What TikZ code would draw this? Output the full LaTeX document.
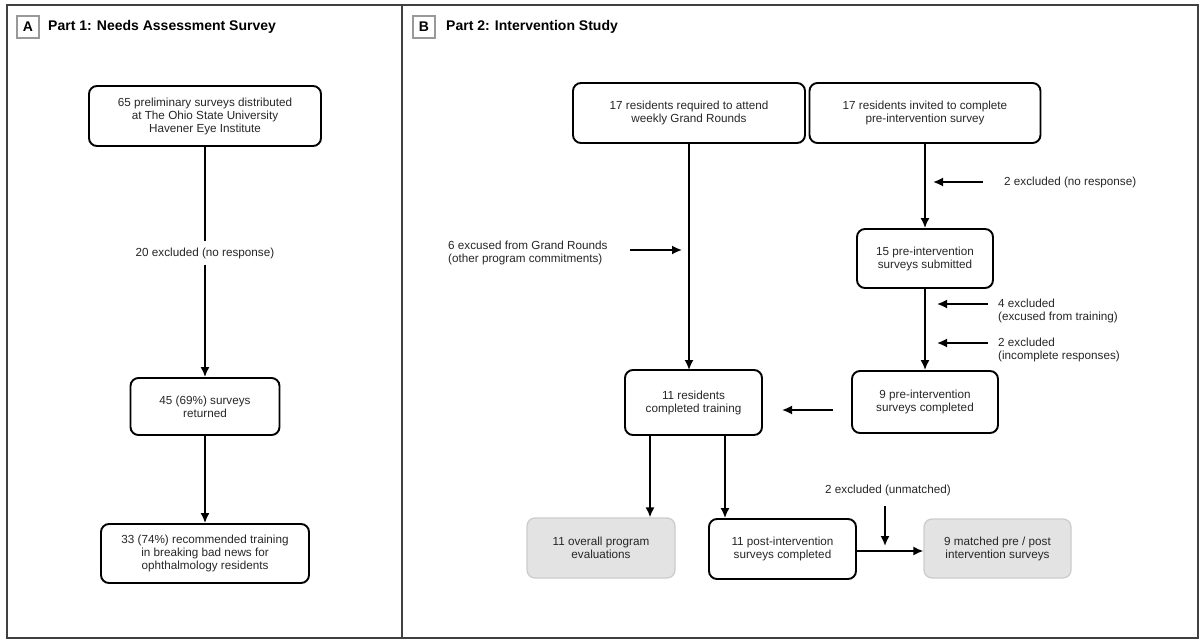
\documentclass[tikz,border=0pt]{standalone}
\usepackage{fontspec}
\setmainfont{Liberation Sans}
\usetikzlibrary{arrows.meta}
\newcommand\myfs{\fontsize{11.7}{13}\selectfont}
\newcommand\mytitle{\fontsize{14}{16}\selectfont\bfseries}
\begin{document}
\begin{tikzpicture}[x=1pt,y=-1pt,
  box/.style={draw=black, line width=1.9pt, rounded corners=8pt, align=center, inner sep=2pt, font=\myfs, text=black!85},
  graybox/.style={draw=black!20, fill=black!11, line width=1.3pt, rounded corners=8pt, align=center, inner sep=2pt, font=\myfs, text=black!85},
  lab/.style={font=\myfs, text=black!85, inner sep=1pt},
  conn/.style={line width=1.7pt},
  arr/.style={conn, -{Latex[length=10pt,width=9pt]}},
  tag/.style={draw=black!40, line width=1.4pt, minimum width=22pt, minimum height=22pt, inner sep=0pt, font=\mytitle},
  frame/.style={draw=black!75, line width=1.8pt}
]
\useasboundingbox (0,0) rectangle (1202,642);
% frames
\draw[frame] (7,5) rectangle (1198,638);
\draw[frame] (402,5) -- (402,638);

% ---------- Panel A ----------
\node[tag] (tagA) at (28,27) {A};
\node[anchor=west, font=\mytitle, inner sep=0pt] (titleA) at (48,27) {Part 1: Needs Assessment Survey};

\node[box, minimum width=232pt, minimum height=60pt] (A1) at (205,116)
  {65 preliminary surveys distributed\\at The Ohio State University\\Havener Eye Institute};
\node[lab, fill=white, inner sep=6pt] (x20) at (205,253) {20 excluded (no response)};
\node[box, minimum width=149pt, minimum height=57pt] (A2) at (205,406.5)
  {45 (69\%) surveys\\returned};
\node[box, minimum width=208pt, minimum height=59pt] (A3) at (205,553.5)
  {33 (74\%) recommended training\\in breaking bad news for\\ophthalmology residents};

\draw[conn] (A1) -- (x20);
\draw[arr] (x20) -- (A2);
\draw[arr] (A2) -- (A3);

% ---------- Panel B ----------
\node[tag] (tagB) at (424,27) {B};
\node[anchor=west, font=\mytitle, inner sep=0pt] (titleB) at (446,27) {Part 2: Intervention Study};

\node[box, minimum width=232pt, minimum height=60pt] (B1) at (689,113)
  {17 residents required to attend\\weekly Grand Rounds};
\node[box, minimum width=231pt, minimum height=60pt] (B2) at (925,113)
  {17 residents invited to complete\\pre-intervention survey};
\node[box, minimum width=136pt, minimum height=59pt] (B4) at (925,258.5)
  {15 pre-intervention\\surveys submitted};
\node[box, minimum width=146pt, minimum height=62pt] (B5) at (925,402)
  {9 pre-intervention\\surveys completed};
\node[box, minimum width=137pt, minimum height=65pt] (B3) at (693.5,402.5)
  {11 residents\\completed training};
\node[graybox, minimum width=148pt, minimum height=60pt] (B6) at (601,548)
  {11 overall program\\evaluations};
\node[box, minimum width=147pt, minimum height=60pt] (B7) at (782.5,549)
  {11 post-intervention\\surveys completed};
\node[graybox, minimum width=147pt, minimum height=59pt] (B8) at (997.5,548.5)
  {9 matched pre / post\\intervention surveys};

% main flow
\draw[arr] (B1.south -| 689,0) -- (689,370);
\draw[arr] (B2.south) -- (B4.north);
\draw[arr] (B4.south) -- (B5.north);
\coordinate (t1) at (650,435);
\coordinate (t2) at (725,435);
\draw[arr] (t1) -- (t1 |- B6.north);
\draw[arr] (t2) -- (t2 |- B7.north);
\coordinate (e7) at (856,551);
\draw[arr] (e7) -- (e7 -| B8.west);
\coordinate (s5) at (833,410);
\coordinate (s3) at (782,410);
\draw[arr] (s5) -- (s3);

% exclusions
\node[lab, anchor=west, align=left] (x6) at (447,253) {6 excused from Grand Rounds\\(other program commitments)};
\coordinate (a6s) at (630,250);
\coordinate (a6e) at (682,250);
\draw[arr] (a6s) -- (a6e);

\node[lab, anchor=west] (x2a) at (1003,182) {2 excluded (no response)};
\coordinate (a2s) at (983,182);
\coordinate (a2e) at (933,182);
\draw[arr] (a2s) -- (a2e);

\node[lab, anchor=west, align=left] (x4) at (997,310.5) {4 excluded\\(excused from training)};
\coordinate (a4s) at (988,304);
\coordinate (a4e) at (937,304);
\draw[arr] (a4s) -- (a4e);

\node[lab, anchor=west, align=left] (x2b) at (997,349.5) {2 excluded\\(incomplete responses)};
\coordinate (a2bs) at (988,343);
\coordinate (a2be) at (937,343);
\draw[arr] (a2bs) -- (a2be);

\node[lab] (xu) at (888,490) {2 excluded (unmatched)};
\coordinate (aus) at (885,506);
\coordinate (aue) at (885,546);
\draw[arr] (aus) -- (aue);
\end{tikzpicture}
\end{document}
